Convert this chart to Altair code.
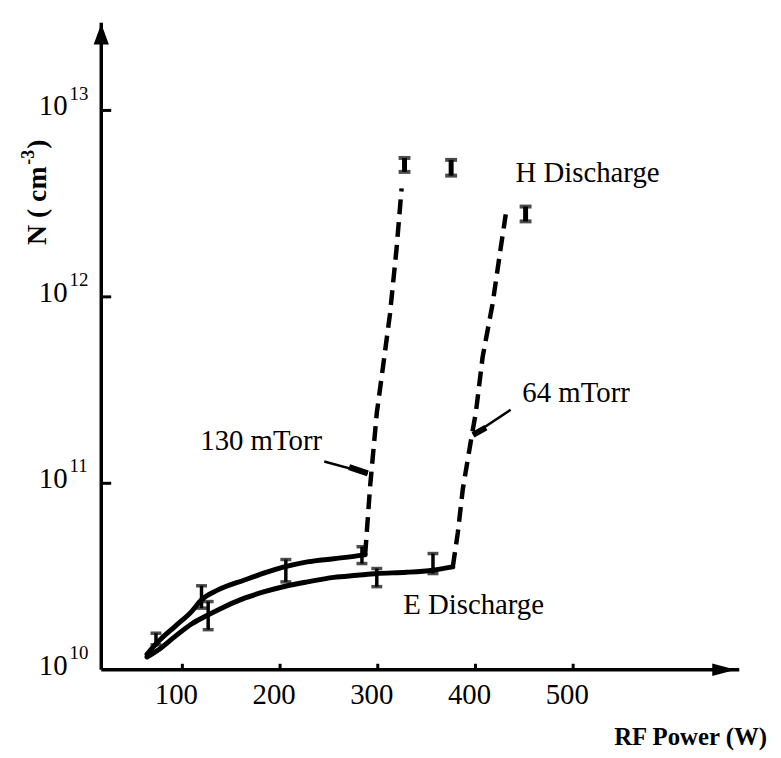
import altair as alt
import pandas as pd

# ---------------- data ----------------
X_MIN, X_MAX = 17, 670
Y_MIN, Y_MAX = 1e10, 10 ** 13.47

# 130 mTorr, E discharge (solid)
p130 = [63.8, 75.6, 92.6, 109.4, 119.6, 136.5, 163.6, 187.3, 204.3, 227.9, 255.0, 278.7, 287.1]
n130 = [1.21e10, 1.42e10, 1.71e10, 2.05e10, 2.37e10, 2.68e10, 3.03e10, 3.35e10, 3.56e10,
        3.79e10, 3.94e10, 4.08e10, 4.14e10]
# 64 mTorr, E discharge (solid)
p64 = [63.8, 75.6, 92.6, 109.4, 126.4, 143.3, 163.6, 184.0, 207.6, 227.9, 255.0, 278.7,
       299.0, 329.4, 356.5, 376.8]
n64 = [1.17e10, 1.28e10, 1.51e10, 1.76e10, 1.97e10, 2.18e10, 2.42e10, 2.62e10, 2.82e10,
       2.96e10, 3.13e10, 3.21e10, 3.28e10, 3.33e10, 3.42e10, 3.56e10]
# transitions (dashed)
p130_jump = [287.1, 292.2, 299.0, 305.8, 312.5, 319.3, 324.4]
n130_jump = [4.14e10, 9.7e10, 2.38e11, 4.39e11, 8.1e11, 1.83e12, 3.82e12]
p64_jump = [376.8, 381.9, 387.0, 395.4, 400.5, 407.3, 417.5, 425.9, 431.0]
n64_jump = [3.56e10, 5.41e10, 9.27e10, 1.70e11, 2.42e11, 4.75e11, 9.16e11, 1.84e12, 2.77e12]

# error bars (E discharge)
eb_p = [73.0, 119.6, 205.9, 283.8, 126.4, 299.0, 356.5]
eb_lo = [1.36e10, 2.14e10, 2.96e10, 3.71e10, 1.64e10, 2.79e10, 3.28e10]
eb_hi = [1.57e10, 2.82e10, 3.90e10, 4.57e10, 2.32e10, 3.49e10, 4.20e10]
# H discharge points
h_p = [327.4, 375.1, 451.3]
h_lo = [4.68e12, 4.47e12, 2.54e12]
h_hi = [5.56e12, 5.43e12, 3.05e12]

# annotation leaders
lead130_p = [245.2, 289.8]
lead130_n = [1.31e11, 1.13e11]
head130_p = [270.7, 289.8]
head130_n = [1.22e11, 1.13e11]
lead64_p = [436.0, 397.5]
lead64_n = [2.48e11, 1.82e11]
head64_p = [410.7, 397.5]
head64_n = [1.99e11, 1.82e11]

notes = ["130 mTorr", "64 mTorr", "H Discharge", "E Discharge"]
notes_p = [243.0, 448.0, 441.0, 326.0]
notes_n = [1.68e11, 3.05e11, 4.63e12, 2.22e10]
notes_align = ["right", "left", "left", "left"]

x_ticks = [100, 200, 300, 400, 500]
y_ticks = [1e10, 1e11, 1e12, 1e13]
y_exps = ["10", "11", "12", "13"]

# ---------------- chart ----------------
W, H = 643, 652
FONT = "Liberation Serif"
xs = alt.Scale(domain=[X_MIN, X_MAX], nice=False, zero=False)
ys = alt.Scale(type="log", domain=[Y_MIN, Y_MAX], nice=False)


def X(f="W"):
    return alt.X(f"{f}:Q", scale=xs, axis=None)


def Y(f="N"):
    return alt.Y(f"{f}:Q", scale=ys, axis=None)


def line_df(p, n):
    return pd.DataFrame({"W": p, "N": n, "o": list(range(len(p)))})


axis_df = pd.DataFrame({"W": [X_MIN], "W2": [X_MAX], "N": [Y_MIN], "N2": [Y_MAX]})
layers = []
layers.append(alt.Chart(axis_df).mark_rule(strokeWidth=3.5, color="black").encode(
    x=X(), y=Y(), y2="N2:Q"))
layers.append(alt.Chart(axis_df).mark_rule(strokeWidth=3.5, color="black").encode(
    x=X(), x2="W2:Q", y=Y()))
layers.append(alt.Chart(axis_df).mark_point(
    shape="M0,-1L0.7,0.9L-0.7,0.9Z", filled=True, size=480, opacity=1,
    color="black", yOffset=12).encode(x=X(), y=Y("N2")))
layers.append(alt.Chart(axis_df).mark_point(
    shape="M1,0L-0.9,0.5L-0.9,-0.5Z", filled=True, size=620, opacity=1,
    color="black", xOffset=-16).encode(x=X("W2"), y=Y()))

# ticks
yt = pd.DataFrame({"N": y_ticks[1:]})
layers.append(alt.Chart(yt).mark_rule(strokeWidth=3, color="black").encode(
    x=alt.value(0), x2=alt.value(10), y=Y()))
xt = pd.DataFrame({"W": x_ticks})
layers.append(alt.Chart(xt).mark_rule(strokeWidth=3, color="black").encode(
    x=X(), y=alt.value(H), y2=alt.value(H - 6)))

# tick labels
layers.append(alt.Chart(xt).mark_text(font=FONT, fontSize=29, align="center",
                                       baseline="alphabetic", dx=-6, color="black").encode(
    x=X(), y=alt.value(H + 35), text="W:Q"))
ylab = pd.DataFrame({"N": y_ticks, "base": ["10"] * 4, "exp": y_exps})
layers.append(alt.Chart(ylab).mark_text(font=FONT, fontSize=29, align="right",
                                         baseline="alphabetic", dy=5, color="black").encode(
    x=alt.value(-34), y=Y(), text="base:N"))
layers.append(alt.Chart(ylab).mark_text(font=FONT, fontSize=19, align="left",
                                         baseline="alphabetic", dy=-11, color="black").encode(
    x=alt.value(-32), y=Y(), text="exp:N"))

# solid E-discharge curves
for p, n in [(p130, n130), (p64, n64)]:
    layers.append(alt.Chart(line_df(p, n)).mark_line(
        color="black", strokeWidth=5, interpolate="monotone", strokeCap="round").encode(
        x=X(), y=Y(), order="o:Q"))
# dashed transitions
for p, n in [(p130_jump, n130_jump), (p64_jump, n64_jump)]:
    layers.append(alt.Chart(line_df(p, n)).mark_line(
        color="black", strokeWidth=4.5, strokeDash=[15, 8]).encode(
        x=X(), y=Y(), order="o:Q"))

# error bars
eb = pd.DataFrame({"W": eb_p, "lo": eb_lo, "hi": eb_hi})
layers.append(alt.Chart(eb).mark_rule(color="black", strokeWidth=3.5).encode(
    x=X(), y=Y("lo"), y2="hi:Q"))
for f in ["lo", "hi"]:
    layers.append(alt.Chart(eb).mark_tick(color="black", orient="horizontal",
                                          size=11, thickness=3.5).encode(x=X(), y=Y(f)))
hb = pd.DataFrame({"W": h_p, "lo": h_lo, "hi": h_hi})
layers.append(alt.Chart(hb).mark_rule(color="black", strokeWidth=5).encode(
    x=X(), y=Y("lo"), y2="hi:Q"))
for f in ["lo", "hi"]:
    layers.append(alt.Chart(hb).mark_tick(color="black", orient="horizontal",
                                          size=12, thickness=4).encode(x=X(), y=Y(f)))

# leaders
for p, n, sw in [(lead130_p, lead130_n, 2.5), (head130_p, head130_n, 6),
                 (lead64_p, lead64_n, 2.5), (head64_p, head64_n, 6)]:
    layers.append(alt.Chart(line_df(p, n)).mark_line(color="black", strokeWidth=sw).encode(
        x=X(), y=Y(), order="o:Q"))

# annotations
for t, p, n, a in zip(notes, notes_p, notes_n, notes_align):
    d = pd.DataFrame({"W": [p], "N": [n], "t": [t]})
    layers.append(alt.Chart(d).mark_text(font=FONT, fontSize=29, align=a,
                                         baseline="middle", color="black").encode(
        x=X(), y=Y(), text="t:N"))

# axis titles
layers.append(alt.Chart(axis_df).mark_text(font=FONT, fontSize=25, fontWeight="bold",
                                            align="right", baseline="alphabetic",
                                            color="black").encode(
    x=alt.value(671), y=alt.value(728), text=alt.value("RF Power (W)")))
layers.append(alt.Chart(axis_df).mark_text(font=FONT, fontSize=28, fontWeight="bold",
                                            align="left", baseline="alphabetic", angle=270,
                                            color="black").encode(
    x=alt.value(-56), y=alt.value(224), text=alt.value("N ( cm")))
layers.append(alt.Chart(axis_df).mark_text(font=FONT, fontSize=18, fontWeight="bold",
                                            align="left", baseline="alphabetic", angle=270,
                                            color="black").encode(
    x=alt.value(-68), y=alt.value(143), text=alt.value("-3")))
layers.append(alt.Chart(axis_df).mark_text(font=FONT, fontSize=28, fontWeight="bold",
                                            align="left", baseline="alphabetic", angle=270,
                                            color="black").encode(
    x=alt.value(-56), y=alt.value(127), text=alt.value(")")))

chart = alt.layer(*layers).properties(
    width=W, height=H,
    padding={"left": 94, "top": 12, "right": 34, "bottom": 80},
    autosize=alt.AutoSizeParams(type="none"),
    background="white",
).configure_view(stroke=None)

chart.save("out.html", embed_options={"renderer": "svg", "actions": False})
